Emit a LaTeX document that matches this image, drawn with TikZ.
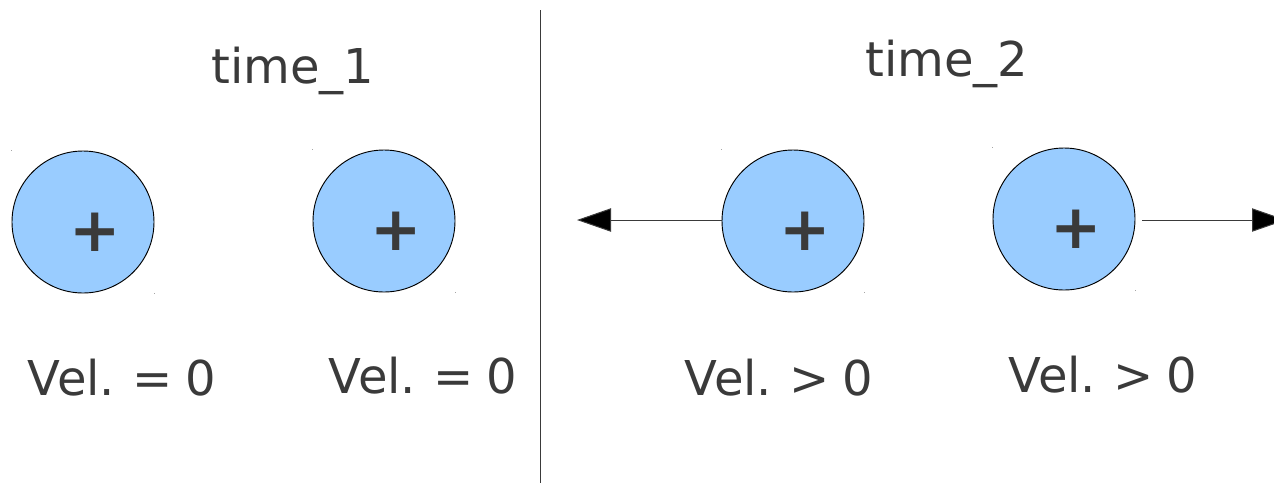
\documentclass[tikz,border=0pt]{standalone}
\usepackage{fontspec}
\setmainfont{DejaVu Sans}
\usetikzlibrary{arrows.meta}
\definecolor{ink}{HTML}{3A3A3A}
\definecolor{ball}{HTML}{99CCFF}
\newcommand\labelfont{\fontsize{36}{36}\selectfont\spaceskip=0.26em\relax}
\begin{document}
\begin{tikzpicture}[x=0.75pt,y=-0.75pt,
  charge/.style={circle, draw=black, line width=0.7pt, fill=ball,
    minimum size=106.5pt, inner sep=0pt},
  sign/.style={inner sep=0pt, text=ink, font=\fontsize{46}{46}\selectfont\bfseries},
  label/.style={anchor=base, inner sep=0pt, text=ink, font=\labelfont},
  speck/.style={fill=black!35, minimum size=1pt, inner sep=0pt},
  motion/.style={line width=0.75pt, draw=ink,
    -{Triangle[length=25.5pt, width=17.5pt, fill=black]}}
]
\useasboundingbox (0,0) rectangle (1274,483);

% divider between the two instants
\draw[line width=0.7pt, draw=ink] (540,10) -- (540,483);

% headings
\node[label] (t1) at (293,83) {time\_1};
\node[label] (t2) at (947,76) {time\_2};

% the four charges
\node[charge] (c1) at (83,222) {};
\node[charge] (c2) at (384,221) {};
\node[charge] (c3) at (793,221) {};
\node[charge] (c4) at (1064,219) {};

\foreach \c in {c1,c2,c3,c4}{
  \node[sign] at ([xshift=9pt,yshift=-7.5pt]\c.center) {+};
  \node[speck] at ([xshift=-53.5pt,yshift=53.5pt]\c.center) {};
  \node[speck] at ([xshift=53.5pt,yshift=-53.5pt]\c.center) {};
}

% velocity labels
\node[label] (v1) at (122,395) {Vel. = 0};
\node[label] (v2) at (423,393) {Vel. = 0};
\node[label] (v3) at (779,395) {Vel. > 0};
\node[label] (v4) at (1103,392) {Vel. > 0};

% repulsion: the charges fly apart
\coordinate (tipL) at (577,220);
\coordinate (tipR) at (1286,220);
\draw[motion] ([yshift=0.75pt]c3.west) -- (tipL);
\draw[motion, shorten <=5pt] ([yshift=-0.75pt]c4.east) -- (tipR);
\end{tikzpicture}
\end{document}
